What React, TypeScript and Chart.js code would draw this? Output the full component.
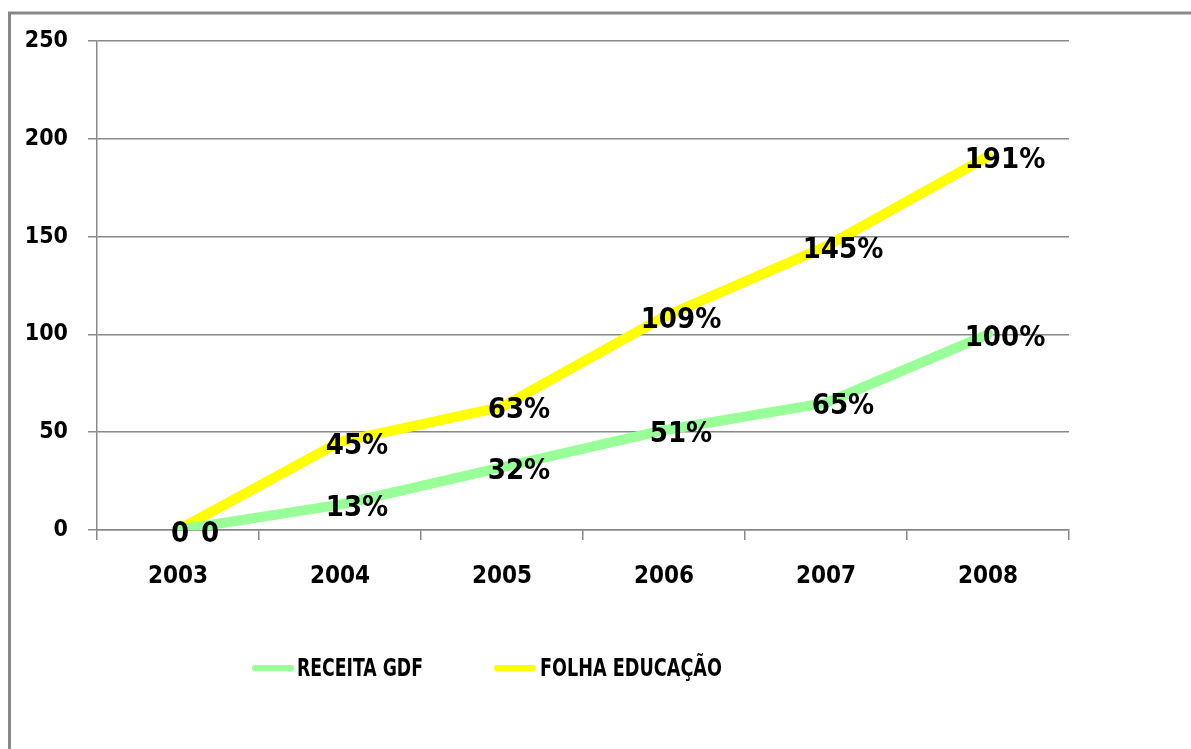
import React, { useEffect, useRef } from "react";
import { Chart, registerables } from "chart.js";

Chart.register(...registerables);

const years = ["2003", "2004", "2005", "2006", "2007", "2008"];
const receitaGdf = [0, 13, 32, 51, 65, 100];
const folhaEducacao = [0, 45, 63, 109, 145, 191];
const receitaLabels = ["0", "13%", "32%", "51%", "65%", "100%"];
const folhaLabels = ["0", "45%", "63%", "109%", "145%", "191%"];
const seriesNames = ["RECEITA GDF", "FOLHA EDUCAÇÃO"];
const seriesColors = ["#99FF99", "#FFFF00"];

const W = 1191;
const H = 749;
const AXIS_FONT = "'DejaVu Sans Condensed', 'DejaVu Sans', sans-serif";

const framePlugin = {
  id: "frame",
  beforeDraw(chart: any) {
    const ctx = chart.ctx;
    ctx.save();
    ctx.fillStyle = "#ffffff";
    ctx.fillRect(0, 0, W, H);
    ctx.strokeStyle = "#888888";
    ctx.lineWidth = 3;
    ctx.strokeRect(9.5, 13, W + 20, H + 20);
    ctx.restore();
  },
};

const labelPlugin = {
  id: "valueLabels",
  afterDatasetsDraw(chart: any) {
    const ctx = chart.ctx;
    const all = [receitaLabels, folhaLabels];
    ctx.save();
    ctx.fillStyle = "#000000";
    ctx.textBaseline = "middle";
    ctx.textAlign = "center";
    ctx.font = "bold 29px " + AXIS_FONT;
    chart.data.datasets.forEach((ds: any, i: number) => {
      const meta = chart.getDatasetMeta(i);
      meta.data.forEach((pt: any, j: number) => {
        const txt = all[i][j];
        let dx = 17;
        if (ds.data[j] === 0) dx = i === 0 ? 32 : 2;
        ctx.fillText(txt, pt.x + dx, pt.y + 4);
      });
    });
    ctx.restore();
  },
};

const legendPlugin = {
  id: "customLegend",
  afterDraw(chart: any) {
    const ctx = chart.ctx;
    const y = 668;
    const items = [
      { x: 252, tx: 297, w: 126 },
      { x: 494, tx: 540, w: 182 },
    ];
    ctx.save();
    items.forEach((it, i) => {
      ctx.strokeStyle = seriesColors[i];
      ctx.lineWidth = 6;
      ctx.lineCap = "round";
      ctx.beginPath();
      ctx.moveTo(it.x + 3, y);
      ctx.lineTo(it.x + 39, y);
      ctx.stroke();
      ctx.fillStyle = "#000000";
      ctx.textBaseline = "middle";
      ctx.textAlign = "left";
      ctx.font = "bold 25px " + AXIS_FONT;
      ctx.fillText(seriesNames[i], it.tx, y + 1, it.w);
    });
    ctx.restore();
  },
};

export default function App() {
  const ref = useRef<HTMLCanvasElement | null>(null);

  useEffect(() => {
    if (!ref.current) return;
    const chart = new Chart(ref.current, {
      type: "line",
      data: {
        labels: years,
        datasets: [
          {
            label: seriesNames[0],
            data: receitaGdf,
            borderColor: seriesColors[0],
            backgroundColor: seriesColors[0],
            borderWidth: 10,
            pointRadius: 0,
            tension: 0,
            borderJoinStyle: "round",
            borderCapStyle: "round",
          },
          {
            label: seriesNames[1],
            data: folhaEducacao,
            borderColor: seriesColors[1],
            backgroundColor: seriesColors[1],
            borderWidth: 10,
            pointRadius: 0,
            tension: 0,
            borderJoinStyle: "round",
            borderCapStyle: "round",
          },
        ],
      },
      options: {
        responsive: false,
        animation: false,
        devicePixelRatio: 1,
        layout: { padding: { left: 0, right: 122, top: 41, bottom: 119 } },
        plugins: {
          legend: { display: false },
          tooltip: { enabled: false },
        },
        scales: {
          x: {
            offset: true,
            grid: {
              offset: true,
              drawOnChartArea: false,
              drawTicks: true,
              tickLength: 10,
              color: "#888888",
              lineWidth: 1.5,
            },
            border: { color: "#888888", width: 1.5 },
            ticks: {
              color: "#000000",
              font: { family: AXIS_FONT, size: 24, weight: "bold" },
              padding: 22,
              maxRotation: 0,
            },
            afterFit(scale: any) {
              scale.height = 100;
            },
          },
          y: {
            min: 0,
            max: 250,
            ticks: {
              stepSize: 50,
              color: "#000000",
              font: { family: AXIS_FONT, size: 23, weight: "bold" },
              padding: 20,
            },
            grid: {
              color: "#888888",
              lineWidth: 1.5,
              tickLength: 9,
            },
            border: { color: "#888888", width: 1.5 },
            afterFit(scale: any) {
              scale.width = 97;
            },
          },
        },
      },
      plugins: [framePlugin, labelPlugin, legendPlugin],
    });
    return () => chart.destroy();
  }, []);

  return (
    <div style={{ position: "fixed", left: 0, top: 0, width: W, height: H, background: "#fff" }}>
      <canvas ref={ref} width={W} height={H} style={{ display: "block" }} />
    </div>
  );
}
